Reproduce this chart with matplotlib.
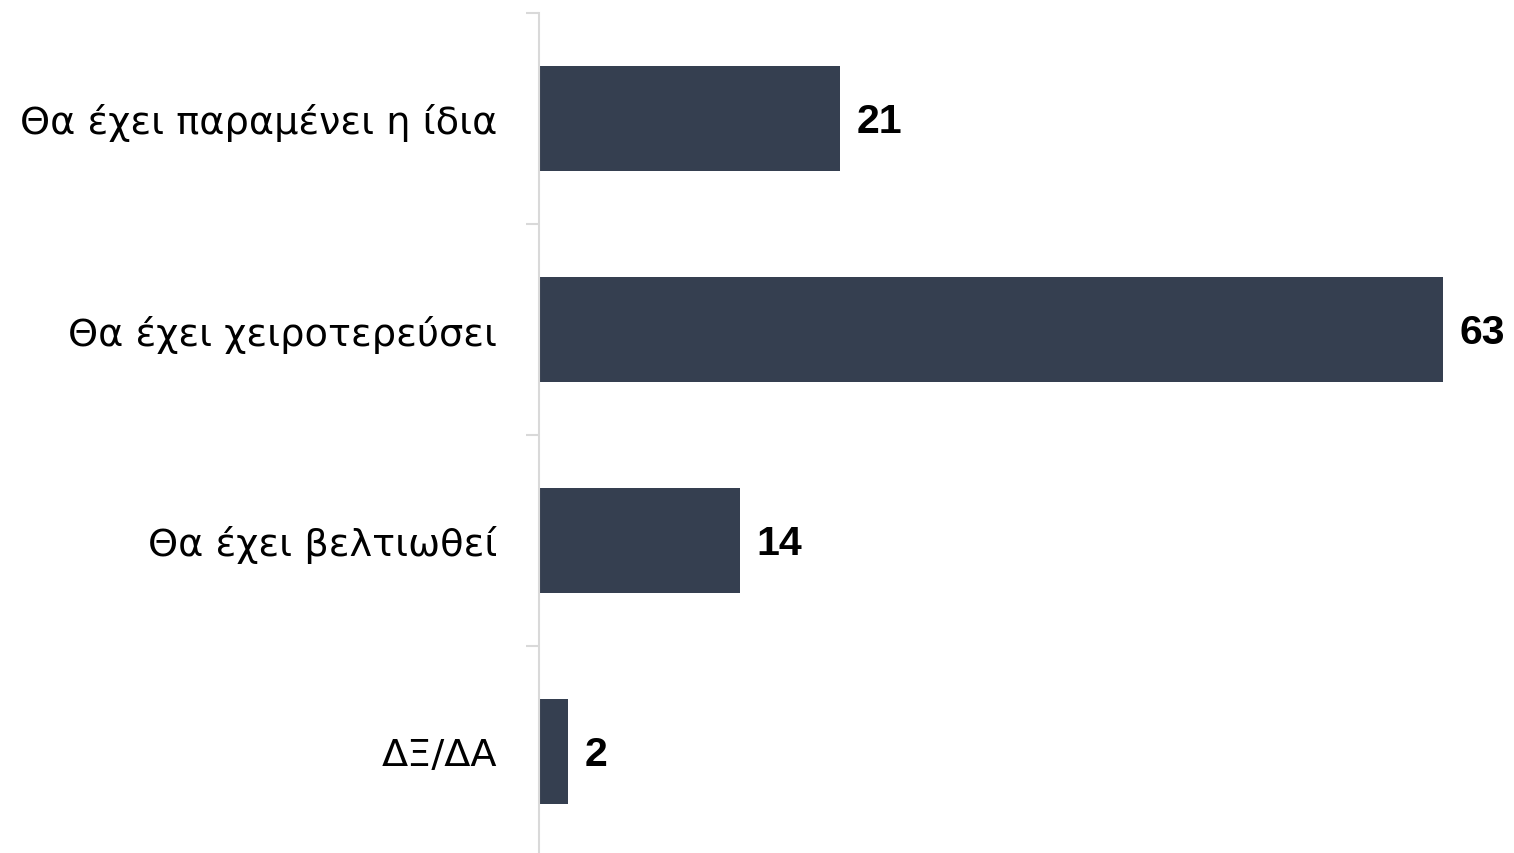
import numpy as np
import matplotlib
matplotlib.use("Agg")
import matplotlib.pyplot as plt

categories = ["Θα έχει παραμένει η ίδια", "Θα έχει χειροτερεύσει", "Θα έχει βελτιωθεί", "ΔΞ/ΔΑ"]
values = [21, 63, 14, 2]

bar_color = "#353f50"
axis_color = "#d9d9d9"

fig = plt.figure(figsize=(15.14, 8.54), dpi=100)
ax = fig.add_axes([539 / 1514, -4 / 854, 975 / 1514, 844 / 854])

y = np.arange(len(categories))
ax.barh(y, values, height=0.5, color=bar_color)

for yi, v in zip(y, values):
    ax.annotate(str(v), (v, yi), xytext=(12, -2), textcoords="offset points",
                va="center", ha="left", fontsize=29.5, fontweight="bold",
                family=["Liberation Sans", "DejaVu Sans"], color="black")

ax.set_xlim(0, 975 / 14.35)
ax.set_ylim(len(categories) - 0.5, -0.5)

# ticks sit on the category boundaries, labels in the middle
ax.set_yticks(np.arange(len(categories) + 1) - 0.5)
ax.set_yticklabels([])
ax.set_yticks(y, minor=True)
ax.set_yticklabels(categories, minor=True, fontsize=27.5,
                   family=["DejaVu Sans"], color="black")
ax.tick_params(axis="y", which="major", length=9.5, width=1.5, color=axis_color)
ax.tick_params(axis="y", which="minor", length=0, pad=30)
ax.set_xticks([])

for s in ["top", "right", "bottom"]:
    ax.spines[s].set_visible(False)
ax.spines["left"].set_color(axis_color)
ax.spines["left"].set_linewidth(1.5)

fig.savefig("out.png", dpi=100)
